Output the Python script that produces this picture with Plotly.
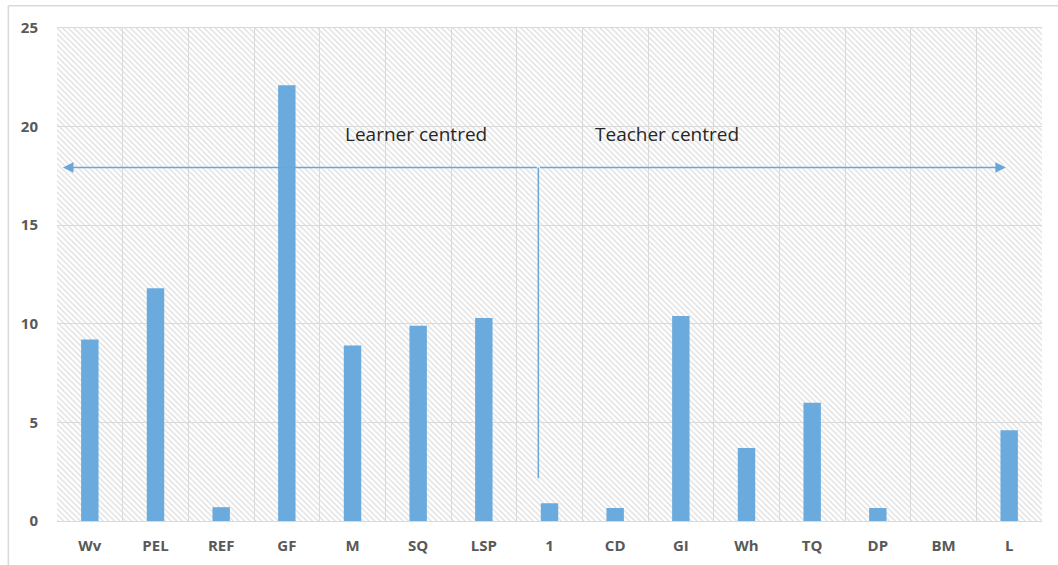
import plotly.graph_objects as go

categories = ["Wv", "PEL", "REF", "GF", "M", "SQ", "LSP", "1", "CD", "GI", "Wh", "TQ", "DP", "BM", "L"]
values = [9.2, 11.8, 0.7, 22.1, 8.9, 9.9, 10.3, 0.9, 0.66, 10.4, 3.7, 6.0, 0.66, 0, 4.6]
y_max = 25
y_ticks = [0, 5, 10, 15, 20, 25]

BLUE = "#6aaadc"
ARROW = "#6aa6d8"
GRID = "#d9d9d9"
TICK = "#595959"

fig = go.Figure()

# hatched plot-area background
fig.add_trace(go.Bar(
    x=categories, y=[y_max] * len(categories), width=1,
    marker=dict(color="rgba(0,0,0,0)", line=dict(width=0),
                pattern=dict(shape="\\", fgcolor="#dcdcdc", bgcolor="rgba(0,0,0,0)",
                             size=4, solidity=0.3, fillmode="replace")),
    hoverinfo="skip", showlegend=False,
))

fig.add_trace(go.Bar(
    x=categories, y=values, width=0.265,
    marker=dict(color=BLUE, line=dict(width=0)),
    showlegend=False,
))

fig.update_layout(
    width=1058, height=565,
    margin=dict(l=57, r=15.5, t=28.3, b=44.3),
    paper_bgcolor="white", plot_bgcolor="white",
    barmode="overlay",
    font=dict(family="Open Sans", color=TICK),
    xaxis=dict(
        type="category", tickson="boundaries", showgrid=True, gridcolor=GRID, gridwidth=1,
        showline=True, linecolor=GRID, linewidth=1, mirror=True,
        ticks="", ticklabelstandoff=11, automargin=False,
        tickfont=dict(size=15, color=TICK, family="Open Sans", weight="bold"),
        range=[-0.5, len(categories) - 0.5],
    ),
    yaxis=dict(
        range=[0, y_max], tickvals=y_ticks, showgrid=True, gridcolor=GRID, gridwidth=1,
        showline=False, zeroline=False, automargin=False,
        ticks="outside", ticklen=15, tickcolor="rgba(0,0,0,0)",
        tickfont=dict(size=15, color=TICK, family="Open Sans", weight="bold"),
    ),
    shapes=[
        dict(type="line", xref="x", yref="y", x0=6.83, x1=6.83, y0=2.17, y1=17.93,
             line=dict(color=ARROW, width=1.5)),
        dict(type="line", xref="paper", yref="paper", x0=-0.0494, x1=1.1, y0=1.0453, y1=1.0453,
             line=dict(color="#d9d9d9", width=1.5)),
        dict(type="line", xref="paper", yref="paper", x0=-0.0494, x1=-0.0494, y0=1.0453, y1=-0.2,
             line=dict(color="#d9d9d9", width=1.5)),
    ],
    annotations=[
        dict(x=-0.41, y=17.93, ax=6.83, ay=17.93, xref="x", yref="y", axref="x", ayref="y",
             text="", showarrow=True, arrowhead=2, arrowsize=1.4, arrowwidth=1.5, arrowcolor=ARROW),
        dict(x=13.95, y=17.93, ax=6.83, ay=17.93, xref="x", yref="y", axref="x", ayref="y",
             text="", showarrow=True, arrowhead=2, arrowsize=1.4, arrowwidth=1.5, arrowcolor=ARROW),
        dict(x=4.97, y=19.6, xref="x", yref="y", text="Learner centred", showarrow=False,
             font=dict(size=19, color="#262626", family="Open Sans")),
        dict(x=8.79, y=19.6, xref="x", yref="y", text="Teacher centred", showarrow=False,
             font=dict(size=19, color="#262626", family="Open Sans")),
    ],
)

fig.write_html("out.html", config={"displayModeBar": False},
               post_script="document.body.style.margin='0';")
